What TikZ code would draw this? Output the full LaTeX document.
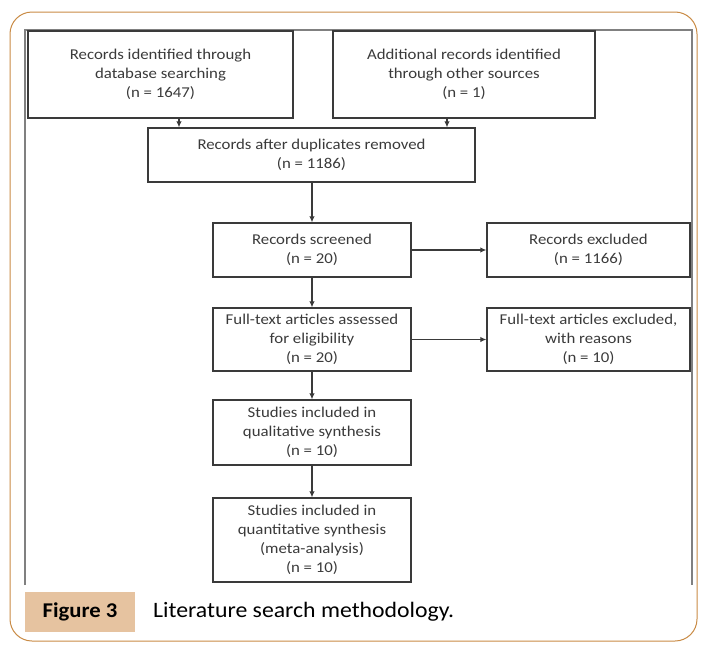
\documentclass[tikz,border=0pt]{standalone}
\usepackage{fontspec}
\setmainfont{Carlito}
\newfontfamily\boxfont[FakeStretch=1.12]{Carlito}
\newfontfamily\capfont[FakeStretch=1.08]{Carlito}
\usetikzlibrary{arrows.meta}
\definecolor{framebrown}{HTML}{C98B45}
\definecolor{captionfill}{HTML}{E6C3A0}
\definecolor{boxline}{HTML}{3A3A3A}
\definecolor{framegray}{HTML}{808080}
\begin{document}
\begin{tikzpicture}[x=1pt, y=-1pt,
    box/.style={draw=boxline, line width=1.3pt, align=center, inner sep=0pt,
                text=boxline, font=\boxfont\fontsize{15}{19}\selectfont},
    arr/.style={line width=1.2pt, draw=boxline, -{Latex[length=6pt,width=5.5pt]}}]
    \useasboundingbox (0, 0) rectangle (703, 648);
    % outer frame and inner frame
    \draw[framebrown, line width=1pt, rounded corners=22pt] (10, 12) rectangle (697, 641);
    \draw[framegray, line width=2pt] (25, 585) -- (25, 30) -- (692, 30) -- (692, 585);
    % boxes
    \node (rec1) [box, minimum width=265, minimum height=87] at (160.5, 74.5)
          {Records identified through\\database searching\\(n = 1647)};
    \node (rec2) [box, minimum width=262, minimum height=87] at (464, 74.5)
          {Additional records identified\\through other sources\\(n = 1)};
    \node (dup) [box, minimum width=327, minimum height=54] at (311.5, 155)
          {Records after duplicates removed\\(n = 1186)};
    \node (scr) [box, minimum width=198, minimum height=54] at (312, 250)
          {Records screened\\(n = 20)};
    \node (exc) [box, minimum width=203, minimum height=54] at (588.5, 250)
          {Records excluded\\(n = 1166)};
    \node (full) [box, minimum width=198, minimum height=63] at (312, 339.5)
          {Full-text articles assessed\\for eligibility\\(n = 20)};
    \node (fexc) [box, minimum width=203, minimum height=63] at (588.5, 339.5)
          {Full-text articles excluded,\\with reasons\\(n = 10)};
    \node (qual) [box, minimum width=198, minimum height=65] at (312, 432.5)
          {Studies included in\\qualitative synthesis\\(n = 10)};
    \node (quan) [box, minimum width=198, minimum height=84] at (312, 540)
          {Studies included in\\quantitative synthesis\\(meta-analysis)\\(n = 10)};
    % arrows
    \draw[arr] ([xshift=18.5pt]rec1.south) -- ([xshift=18.5pt]rec1.south |- dup.north);
    \draw[arr] ([xshift=-17pt]rec2.south) -- ([xshift=-17pt]rec2.south |- dup.north);
    \draw[arr] (scr.north |- dup.south) -- (scr);
    \draw[arr] (scr) -- (full);
    \draw[arr] (full) -- (qual);
    \draw[arr] (qual) -- (quan);
    \draw[arr] (scr) -- (exc);
    \draw[arr] (full) -- (fexc);
    % caption
    \node (fig) [fill=captionfill, minimum width=110, minimum height=40, inner sep=0pt,
          font=\capfont\fontsize{21}{24}\selectfont\bfseries] at (80, 612) {Figure 3};
    \node (cap) [anchor=west, inner sep=0pt, font=\capfont\fontsize{22}{24}\selectfont]
          at (153, 612) {Literature search methodology.};
\end{tikzpicture}
\end{document}
